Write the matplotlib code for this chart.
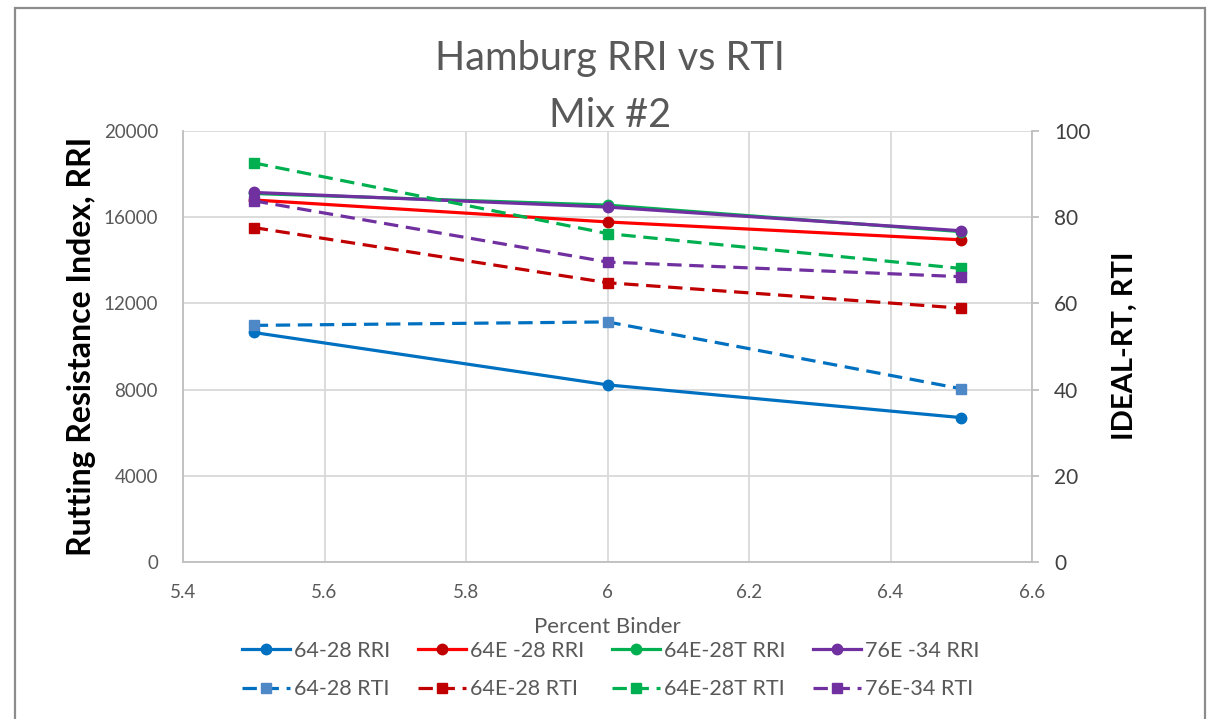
import matplotlib
matplotlib.use("Agg")
import matplotlib.pyplot as plt
from matplotlib.patches import Rectangle

plt.rcParams['font.family'] = ['Lato', 'DejaVu Sans']

# percent binder
binder = [5.5, 6.0, 6.5]

# RRI (left axis)
rri_64_28 = [10650, 8220, 6700]
rri_64e_28 = [16800, 15780, 14950]
rri_64e_28t = [17100, 16560, 15330]
rri_76e_34 = [17150, 16470, 15370]

# RTI (right axis)
rti_64_28 = [54.9, 55.7, 40.2]
rti_64e_28 = [77.6, 64.8, 58.9]
rti_64e_28t = [92.6, 76.2, 68.1]
rti_76e_34 = [83.8, 69.6, 66.2]

rri_labels = ["64-28 RRI", "64E -28 RRI", "64E-28T RRI", "76E -34 RRI"]
rti_labels = ["64-28 RTI", "64E-28 RTI", "64E-28T RTI", "76E-34 RTI"]

GRAY = '#595959'
GRID = '#d9d9d9'

fig = plt.figure(figsize=(12.09, 7.19), dpi=100)
ax = fig.add_axes([183 / 1209, 1 - 562 / 719, (1032 - 183) / 1209, (562 - 131) / 719])
ax2 = ax.twinx()

lw = 2.3
ms = 7.5
dash = (4.5, 2.4)

# solid RRI lines: (values, line colour, marker colour)
rri_series = [
    (rri_64_28, '#0070c0', '#0070c0'),
    (rri_64e_28, '#ff0000', '#c00000'),
    (rri_64e_28t, '#00b050', '#00b050'),
    (rri_76e_34, '#7030a0', '#7030a0'),
]
rti_series = [
    (rti_64_28, '#0070c0', '#4f88c6'),
    (rti_64e_28, '#c00000', '#c00000'),
    (rti_64e_28t, '#00b050', '#00b050'),
    (rti_76e_34, '#7030a0', '#7030a0'),
]

rri_handles = []
for (vals, c, mc), lab in zip(rri_series, rri_labels):
    h, = ax.plot(binder, vals, color=c, lw=lw, marker='o', ms=ms,
                 markerfacecolor=mc, markeredgecolor=mc, label=lab, zorder=3)
    rri_handles.append(h)

rti_handles = []
for (vals, c, mc), lab in zip(rti_series, rti_labels):
    h, = ax2.plot(binder, vals, color=c, lw=lw, ls=(0, dash), marker='s', ms=ms,
                  markerfacecolor=mc, markeredgecolor=mc, label=lab, zorder=3)
    rti_handles.append(h)

ax.set_xlim(5.4, 6.6)
ax.set_ylim(0, 20000)
ax2.set_ylim(0, 100)
ax.set_xticks([5.4, 5.6, 5.8, 6.0, 6.2, 6.4, 6.6])
ax.set_xticklabels(['5.4', '5.6', '5.8', '6', '6.2', '6.4', '6.6'])
ax.set_yticks(range(0, 20001, 4000))
ax2.set_yticks(range(0, 101, 20))

ax.grid(True, color=GRID, lw=1.3)
ax.set_axisbelow(True)
for a in (ax, ax2):
    a.spines['top'].set_visible(False)
    for s in ('left', 'bottom', 'right'):
        a.spines[s].set_color('#bfbfbf')
        a.spines[s].set_linewidth(1.3)
ax.spines['right'].set_visible(False)
ax2.spines['left'].set_visible(False)
ax2.spines['bottom'].set_visible(False)

ax.tick_params(axis='both', length=0, labelsize=13.5, labelcolor=GRAY)
ax.tick_params(axis='y', pad=18)
ax.tick_params(axis='x', pad=16)
ax2.tick_params(axis='y', length=5, width=1.3, color='#bfbfbf', direction='out',
                labelsize=15, labelcolor='#404040', pad=11)

fig.text(610 / 1209, 1 - 70 / 719, "Hamburg RRI vs RTI", fontsize=28.5, color=GRAY,
         ha='center', va='baseline')
fig.text(610 / 1209, 1 - 127 / 719, "Mix #2", fontsize=28.5, color=GRAY,
         ha='center', va='baseline')

fig.text(82 / 1209, 1 - 346 / 719, "Rutting Resistance Index, RRI", fontsize=23,
         fontweight='bold', color='black', rotation=90, ha='center', va='center')
fig.text(1125 / 1209, 1 - 346 / 719, "IDEAL-RT, RTI", fontsize=21,
         fontweight='bold', color='black', rotation=90, ha='center', va='center')
fig.text(607 / 1209, 1 - 627 / 719, "Percent Binder", fontsize=16, color=GRAY,
         ha='center', va='center')

# legend: row 1 RRI, row 2 RTI
handles = []
labels = []
for h1, h2 in zip(rri_handles, rti_handles):
    handles += [h1, h2]
    labels += [h1.get_label(), h2.get_label()]
leg = fig.legend(handles, labels, ncol=4, loc='center', bbox_to_anchor=(611 / 1209, 1 - 670 / 719),
                 frameon=False, fontsize=15.5, handlelength=2.2, handletextpad=0.2,
                 columnspacing=1.3, labelspacing=0.85, numpoints=1)
for t in leg.get_texts():
    t.set_color(GRAY)

fig.add_artist(Rectangle((14.5 / 1209, -0.02), (1205 - 14.5) / 1209, 1.02 - 7.5 / 719,
                         transform=fig.transFigure, fill=False, edgecolor='#8c8c8c', lw=1.6))

fig.savefig('out.png', dpi=100, facecolor='white')
